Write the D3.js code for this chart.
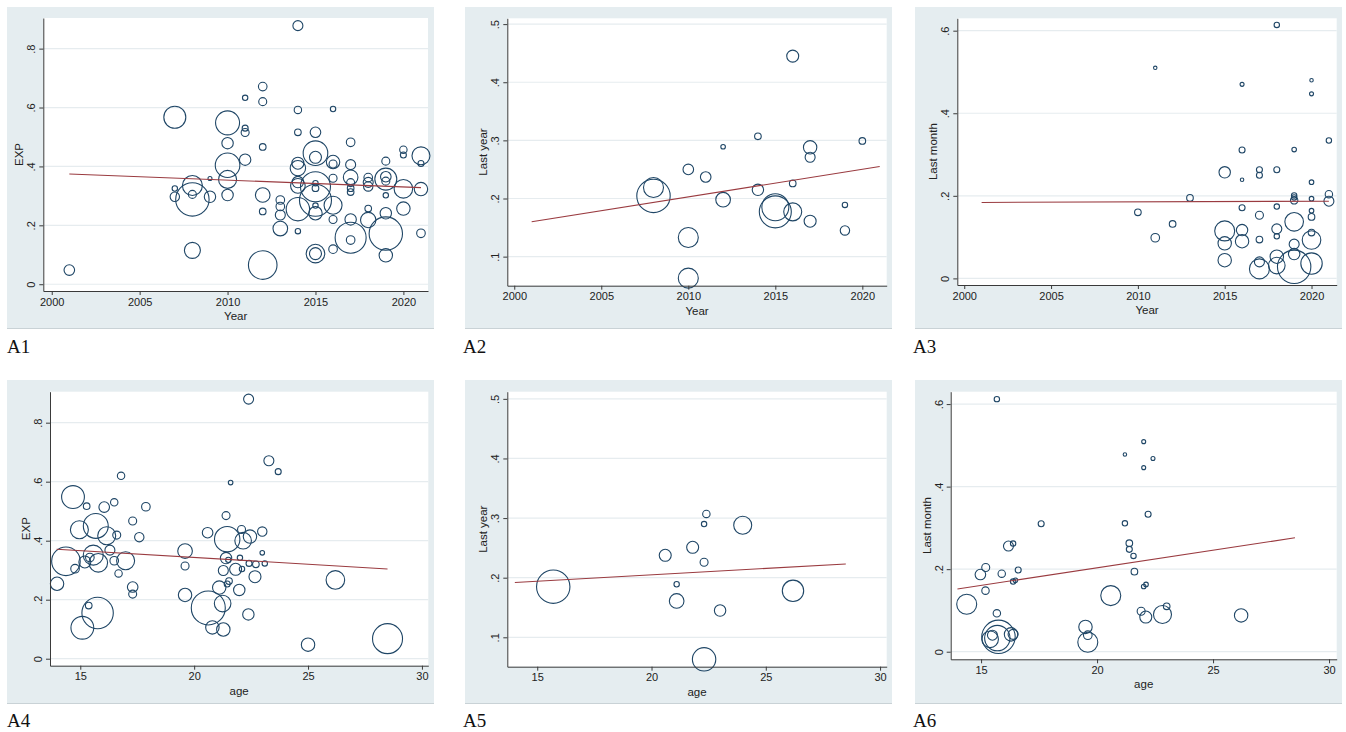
<!DOCTYPE html>
<html><head><meta charset="utf-8">
<script src="https://cdn.jsdelivr.net/npm/d3@7"></script>
<style>body{margin:0;background:#fff}svg{display:block}</style>
</head><body>
<svg id="chart" width="1346" height="732"></svg>
<script>
// ---------------- DATA ----------------
const yearTicks = [2000, 2005, 2010, 2015, 2020];
const ageTicks = [15, 20, 25, 30];
const expTicks = [0, 0.2, 0.4, 0.6, 0.8];
const lastYearTicks = [0.1, 0.2, 0.3, 0.4, 0.5];
const lastMonthTicks = [0, 0.2, 0.4, 0.6];

// A1: EXP by Year
const a1Year = [2001,2007,2007,2007,2008,2008,2008,2008,2009,2009,2010,2010,2010,2010,2010,2011,2011,2011,2011,2012,2012,2012,2012,2012,2012,2013,2013,2013,2013,2014,2014,2014,2014,2014,2014,2014,2014,2014,2015,2015,2015,2015,2015,2015,2015,2015,2015,2015,2015,2016,2016,2016,2016,2016,2016,2016,2017,2017,2017,2017,2017,2017,2017,2017,2017,2018,2018,2018,2018,2018,2019,2019,2019,2019,2019,2019,2019,2019,2020,2020,2020,2020,2021,2021,2021,2021];
const a1Exp  = [0.048,0.567,0.325,0.297,0.288,0.335,0.305,0.115,0.359,0.297,0.548,0.479,0.404,0.356,0.303,0.633,0.53,0.515,0.423,0.671,0.62,0.466,0.303,0.247,0.065,0.286,0.264,0.235,0.189,0.878,0.592,0.516,0.411,0.394,0.347,0.334,0.255,0.18,0.516,0.445,0.431,0.343,0.331,0.285,0.326,0.267,0.241,0.104,0.104,0.595,0.415,0.408,0.36,0.268,0.22,0.119,0.482,0.406,0.363,0.345,0.326,0.313,0.22,0.158,0.15,0.362,0.346,0.332,0.257,0.218,0.418,0.357,0.365,0.35,0.302,0.241,0.172,0.098,0.457,0.439,0.324,0.257,0.436,0.41,0.323,0.173];
const a1N    = [560,2420,145,440,5578,2000,320,1280,80,650,2880,650,3026,1620,650,145,180,320,650,370,320,220,1070,220,4090,370,370,500,1070,500,275,220,720,1186,650,1070,2738,145,560,3026,720,145,4500,5120,220,145,900,1730,720,145,900,320,320,1620,320,370,370,500,1070,320,220,220,650,4805,370,370,500,440,220,1186,320,2420,560,320,145,650,5578,900,275,180,1730,900,1620,180,900,370];
const a1FitX = [2001, 2021];
const a1FitY = [0.3745, 0.328];

// A2: Last year by Year
const a2Year = [2008,2008,2010,2010,2010,2011,2012,2012,2014,2014,2015,2015,2016,2016,2016,2017,2017,2017,2019,2019,2020];
const a2Prev = [0.2045,0.219,0.25,0.133,0.063,0.237,0.289,0.198,0.307,0.215,0.185,0.177,0.445,0.226,0.177,0.288,0.271,0.161,0.189,0.145,0.299];
const a2N    = [5578,2000,560,2000,2000,560,105,1070,220,650,3645,5120,720,220,1620,900,500,720,145,440,220];
const a2FitX = [2001, 2021];
const a2FitY = [0.160, 0.255];

// A3: Last month by Year
const a3Year = [2010,2011,2011,2012,2013,2015,2015,2015,2015,2016,2016,2016,2016,2016,2016,2017,2017,2017,2017,2017,2017,2018,2018,2018,2018,2018,2018,2018,2019,2019,2019,2019,2019,2019,2019,2019,2020,2020,2020,2020,2020,2020,2020,2020,2020,2021,2021,2021];
const a3Prev = [0.16,0.51,0.0985,0.132,0.195,0.257,0.115,0.085,0.044,0.47,0.311,0.239,0.171,0.117,0.09,0.263,0.25,0.153,0.094,0.04,0.023,0.614,0.263,0.174,0.12,0.102,0.0525,0.031,0.312,0.201,0.196,0.189,0.137,0.083,0.059,0.028,0.48,0.447,0.233,0.193,0.164,0.149,0.111,0.093,0.036,0.334,0.204,0.187];
const a3N    = [220,60,370,220,220,650,2000,900,900,80,180,60,180,650,900,180,180,320,220,500,2000,145,180,145,500,145,900,1378,105,145,145,275,1730,500,650,5578,60,80,105,105,105,220,220,1730,2290,145,275,500];
const a3FitX = [2001, 2021];
const a3FitY = [0.184, 0.187];

// A4: EXP by age
const a4Age = [13.98,14.37,14.68,14.77,14.96,15.09,15.28,15.2,15.37,15.42,15.68,15.76,15.57,15.79,16.05,16.16,16.3,16.49,16.49,16.6,16.68,16.79,16.99,17.3,17.3,17.3,17.59,17.88,19.6,19.6,19.6,20.59,20.62,20.8,21.1,21.25,21.28,21.28,21.4,21.4,21.45,21.53,21.45,21.5,21.6,21.82,21.98,22.01,22.08,22.15,22.38,22.41,22.45,22.71,22.67,22.99,22.99,23.1,23.28,23.69,22.39,22.1,25.0,26.2,28.49];
const a4Exp = [0.254,0.33,0.548,0.305,0.437,0.105,0.517,0.328,0.18,0.343,0.45,0.155,0.351,0.325,0.514,0.417,0.368,0.53,0.332,0.419,0.289,0.62,0.332,0.467,0.243,0.219,0.412,0.515,0.365,0.314,0.216,0.427,0.172,0.106,0.241,0.187,0.099,0.299,0.485,0.341,0.405,0.263,0.253,0.335,0.597,0.303,0.233,0.342,0.438,0.4,0.15,0.323,0.414,0.32,0.278,0.431,0.359,0.323,0.671,0.634,0.88,0.304,0.0475,0.267,0.068];
const a4N   = [900,4090,2600,370,1620,2600,220,720,220,370,3100,4930,2000,1730,560,1620,500,275,370,320,275,275,1620,320,560,320,440,370,1070,320,900,560,5780,900,900,1378,900,500,320,650,3226,220,180,145,105,720,650,145,320,1378,650,180,900,220,720,440,105,145,500,180,500,145,900,1730,4500];
const a4FitX = [13.96, 28.49];
const a4FitY = [0.371, 0.304];

// A5: Last year by age
const a5Age  = [15.7,20.6,21.1,21.1,21.8,22.3,22.4,22.3,22.3,23.0,23.99,26.19];
const a5Prev = [0.185,0.2376,0.189,0.161,0.251,0.29,0.307,0.226,0.063,0.145,0.288,0.178];
const a5N    = [5578,720,145,1070,720,145,275,320,2738,650,1620,2290];
const a5FitX = [14.02, 28.5];
const a5FitY = [0.192, 0.223];

// A6: Last month by age
const a6Age  = [15.68,22.01,21.2,22.41,22.01,22.2,21.2,17.59,16.38,16.18,21.39,21.39,21.57,15.2,14.97,15.89,16.6,21.61,16.38,16.48,15.19,22.01,22.11,14.38,20.59,15.68,21.9,22.1,22.82,23.0,26.21,19.5,19.6,19.6,15.49,15.39,15.75,15.7,16.29,16.38];
const a6Prev = [0.612,0.509,0.478,0.468,0.446,0.333,0.311,0.31,0.262,0.256,0.263,0.248,0.232,0.204,0.187,0.189,0.198,0.194,0.17,0.173,0.148,0.158,0.163,0.115,0.136,0.093,0.098,0.084,0.09,0.11,0.088,0.06,0.04,0.023,0.04,0.03,0.036,0.033,0.042,0.042];
const a6N    = [145,80,60,80,80,180,145,180,145,500,220,180,145,320,560,275,180,220,145,105,275,105,105,2000,2000,275,320,720,1620,220,900,900,370,2000,500,1378,5578,3226,900,500];
const a6FitX = [13.98, 28.53];
const a6FitY = [0.152, 0.276];

// ---------------- LAYOUT ----------------
const panels = [
  {label:"A1", xTitle:"Year", yTitle:"EXP", xs:a1Year, ys:a1Exp, ns:a1N, fx:a1FitX, fy:a1FitY, xTicks:yearTicks, yTicks:expTicks,
   box:[7,7,434,328], plot:[43.3,18,428,291], xDom:[1999.52,2021.4], yDom:[-0.023,0.904], lab:[7,353]},
  {label:"A2", xTitle:"Year", yTitle:"Last year", xs:a2Year, ys:a2Prev, ns:a2N, fx:a2FitX, fy:a2FitY, xTicks:yearTicks, yTicks:lastYearTicks,
   box:[465,7,892,328], plot:[507.3,18.3,886.7,285.7], xDom:[1999.6,2021.4], yDom:[0.05,0.51], lab:[463,353]},
  {label:"A3", xTitle:"Year", yTitle:"Last month", xs:a3Year, ys:a3Prev, ns:a3N, fx:a3FitX, fy:a3FitY, xTicks:yearTicks, yTicks:lastMonthTicks,
   box:[915,7,1342,328], plot:[957.3,18.3,1336.7,285], xDom:[1999.6,2021.45], yDom:[-0.016,0.63], lab:[913,353]},
  {label:"A4", xTitle:"age", yTitle:"EXP", xs:a4Age, ys:a4Exp, ns:a4N, fx:a4FitX, fy:a4FitY, xTicks:ageTicks, yTicks:expTicks,
   box:[7,380,434,703], plot:[50,391.7,428.3,665.7], xDom:[13.67,30.28], yDom:[-0.0237,0.905], lab:[7,727]},
  {label:"A5", xTitle:"age", yTitle:"Last year", xs:a5Age, ys:a5Prev, ns:a5N, fx:a5FitX, fy:a5FitY, xTicks:ageTicks, yTicks:lastYearTicks,
   box:[465,380,892,703], plot:[507.3,391.7,886.7,666.7], xDom:[13.69,30.29], yDom:[0.0507,0.512], lab:[463,727]},
  {label:"A6", xTitle:"age", yTitle:"Last month", xs:a6Age, ys:a6Prev, ns:a6N, fx:a6FitX, fy:a6FitY, xTicks:ageTicks, yTicks:lastMonthTicks,
   box:[915,380,1342,703], plot:[950.7,391.7,1336.7,659.3], xDom:[13.69,30.33], yDom:[-0.0184,0.63], lab:[913,727]}
];

const BG = "#e5edf0", GRID = "#e6ecef", MARK = "#1f4666", FIT = "#9a3b40", AXIS = "#3a3a3a";
const sans = "'Liberation Sans', Arial, sans-serif";
const rScale = d3.scaleSqrt().domain([0, 6000]).range([0, 17.32]);
const fmtY = d => d === 0 ? "0" : d3.format(".1f")(d).replace(/^0/, "");

const svg = d3.select("#chart");

panels.forEach(p => {
  const [bx0, by0, bx1, by1] = p.box;
  const [px0, py0, px1, py1] = p.plot;
  const g = svg.append("g");
  g.append("rect").attr("x", bx0).attr("y", by0).attr("width", bx1 - bx0).attr("height", by1 - by0).attr("fill", BG);
  g.append("line").attr("x1", bx0).attr("x2", bx1).attr("y1", by1 + 0.5).attr("y2", by1 + 0.5).attr("stroke", "#c9d2d6").attr("stroke-width", 1);
  g.append("rect").attr("x", px0).attr("y", py0).attr("width", px1 - px0).attr("height", py1 - py0).attr("fill", "#fff");

  const x = d3.scaleLinear().domain(p.xDom).range([px0, px1]);
  const y = d3.scaleLinear().domain(p.yDom).range([py1, py0]);

  // gridlines
  g.append("g").selectAll("line").data(p.yTicks).join("line")
    .attr("x1", px0).attr("x2", px1).attr("y1", d => y(d)).attr("y2", d => y(d))
    .attr("stroke", GRID).attr("stroke-width", 1.2);

  // bubbles
  const pts = p.xs.map((v, i) => ({x: v, y: p.ys[i], n: p.ns[i]}));
  g.append("g").selectAll("circle").data(pts).join("circle")
    .attr("cx", d => x(d.x)).attr("cy", d => y(d.y)).attr("r", d => rScale(d.n))
    .attr("fill", "none").attr("stroke", MARK).attr("stroke-width", 1.1);

  // fit line
  const fit = p.fx.map((v, i) => [v, p.fy[i]]);
  g.append("path").datum(fit)
    .attr("d", d3.line().x(d => x(d[0])).y(d => y(d[1])))
    .attr("fill", "none").attr("stroke", FIT).attr("stroke-width", 1.1);

  // axes
  const xa = g.append("g").attr("transform", `translate(0,${py1})`)
    .call(d3.axisBottom(x).tickValues(p.xTicks).tickSize(4).tickSizeOuter(0).tickPadding(3).tickFormat(d3.format("d")));
  xa.selectAll("text").attr("font-family", sans).attr("font-size", 11).attr("fill", "#222");
  const ya = g.append("g").attr("transform", `translate(${px0},0)`)
    .call(d3.axisLeft(y).tickValues(p.yTicks).tickSize(4).tickSizeOuter(0).tickFormat(fmtY));
  ya.selectAll("text").attr("font-family", sans).attr("font-size", 11).attr("fill", "#222")
    .attr("text-anchor", "middle").attr("x", 0).attr("y", -12).attr("dy", "0.35em")
    .attr("transform", "rotate(-90)");
  g.selectAll(".domain, .tick line").attr("stroke", AXIS).attr("stroke-width", 1);

  // titles
  g.append("text").attr("x", (px0 + px1) / 2).attr("y", py1 + 29)
    .attr("text-anchor", "middle").attr("font-family", sans).attr("font-size", 11.5).attr("fill", "#222").text(p.xTitle);
  g.append("text").attr("transform", `translate(${px0 - 24},${(py0 + py1) / 2}) rotate(-90)`)
    .attr("text-anchor", "middle").attr("dy", "0.35em").attr("font-family", sans).attr("font-size", 11.5).attr("fill", "#222").text(p.yTitle);

  // panel label
  g.append("text").attr("x", p.lab[0]).attr("y", p.lab[1])
    .attr("font-family", "'Liberation Serif', 'Times New Roman', serif").attr("font-size", 19).attr("fill", "#111").text(p.label);
});
</script>
</body></html>
